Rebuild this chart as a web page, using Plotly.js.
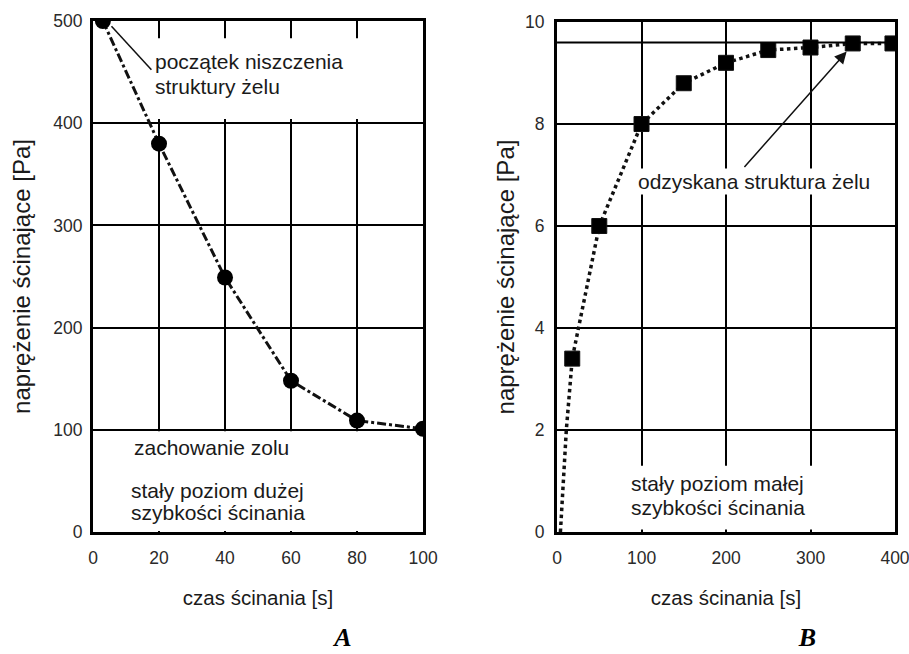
<!DOCTYPE html>
<html>
<head>
<meta charset="utf-8">
<script src="https://cdn.plot.ly/plotly-3.0.1.min.js"></script>
<style>html,body{margin:0;padding:0;background:#fff;}#chart{width:909px;height:654px;}</style>
</head>
<body>
<div id="chart"></div>
<script>
// ---- Data ----
const timeA = [3, 20, 40, 60, 80, 100];
const stressA = [500, 380, 249, 148, 109, 101];

const timeB = [4, 8, 11, 18, 50, 100, 150, 200, 250, 300, 350, 397];
const stressB = [0, 1, 2, 3.4, 6.0, 8.0, 8.8, 9.2, 9.45, 9.5, 9.58, 9.58];
const markedB = [false, false, false, true, true, true, true, true, true, true, true, true];
const recoveredLevelB = 9.6;

const ticksA_x = [0, 20, 40, 60, 80, 100];
const ticksA_y = [0, 100, 200, 300, 400, 500];
const ticksB_x = [0, 100, 200, 300, 400];
const ticksB_y = [0, 2, 4, 6, 8, 10];

const xTitle = 'czas ścinania [s]';
const yTitle = 'naprężenie ścinające [Pa]';

// ---- Styles ----
const FONT = 'Liberation Sans, Arial, Helvetica, sans-serif';
const TXT = '#1a1a1a';
const ANN = 21;

const traceA = {
  x: timeA, y: stressA, xaxis: 'x', yaxis: 'y',
  mode: 'lines+markers', type: 'scatter',
  line: {color: '#111', width: 3, dash: 'dashdot'},
  marker: {symbol: 'circle', size: 16, color: '#000', opacity: 1},
  hoverinfo: 'skip'
};
const traceB = {
  x: timeB, y: stressB, xaxis: 'x2', yaxis: 'y2',
  mode: 'lines+markers', type: 'scatter',
  line: {color: '#111', width: 3.5, dash: 'dot'},
  marker: {symbol: 'square', size: markedB.map(m => m ? 15 : 0), color: '#000', opacity: 1},
  hoverinfo: 'skip'
};

function axisBase(extra) {
  return Object.assign({
    showline: true, mirror: true, linecolor: '#000', linewidth: 3,
    showgrid: true, gridcolor: '#000', gridwidth: 2,
    zeroline: false, ticks: '', fixedrange: true,
    ticklabeloverflow: 'allow',
    tickfont: {family: FONT, size: 17.5, color: '#2a2a2a'}
  }, extra);
}

// white blank panels (grid-free zones of the original figure), drawn above the grid, below the data
const blank = (xr, yr, x0, x1, y0, y1) => ({type: 'rect', layer: 'between', xref: xr, yref: yr,
  x0: x0, x1: x1, y0: y0, y1: y1, fillcolor: '#fff', line: {width: 0}});

const layout = {
  width: 909, height: 654,
  margin: {l: 93, r: 14, t: 21, b: 122},
  paper_bgcolor: '#fff', plot_bgcolor: '#fff',
  showlegend: false,
  xaxis: axisBase({domain: [0, 0.4115], range: [0, 100], tickvals: ticksA_x, anchor: 'y',
    ticklabelstandoff: 8,
    title: {text: xTitle, font: {family: FONT, size: 20.5, color: TXT}, standoff: 24}}),
  yaxis: axisBase({domain: [0, 1], range: [0, 500], tickvals: ticksA_y, anchor: 'x',
    ticklabelstandoff: 4,
    title: {text: yTitle, font: {family: FONT, size: 24, color: TXT}, standoff: 16}}),
  xaxis2: axisBase({domain: [0.5786, 1.0], range: [0, 400], tickvals: ticksB_x, anchor: 'y2',
    ticklabelstandoff: 8,
    title: {text: xTitle, font: {family: FONT, size: 20.5, color: TXT}, standoff: 24}}),
  yaxis2: axisBase({domain: [0, 0.998], range: [0, 10], tickvals: ticksB_y, anchor: 'x2',
    ticklabelstandoff: 6,
    title: {text: yTitle, font: {family: FONT, size: 24, color: TXT}, standoff: 4}}),
  shapes: [
    blank('x', 'y', 1, 99, 1, 98.5),
    blank('x', 'y', 17, 98.5, 404, 483),
    blank('x2', 'y2', 4, 396, 0.05, 1.3),
    {type: 'line', xref: 'x2', yref: 'y2', x0: 0, x1: 400, y0: recoveredLevelB, y1: recoveredLevelB,
     line: {color: '#000', width: 2}},
    {type: 'line', xref: 'x', yref: 'y', x0: 5.6, y0: 494.8, x1: 17.7, y1: 452.4,
     line: {color: '#111', width: 1.5}}
  ],
  annotations: [
    {xref: 'x', yref: 'y', x: 18.2, y: 460, text: 'początek niszczenia', showarrow: false,
     xanchor: 'left', yanchor: 'middle', font: {family: FONT, size: ANN, color: TXT}},
    {xref: 'x', yref: 'y', x: 18.2, y: 436.4, text: 'struktury żelu', showarrow: false,
     xanchor: 'left', yanchor: 'middle', font: {family: FONT, size: ANN, color: TXT}},
    {xref: 'x', yref: 'y', x: 11.8, y: 82.5, text: 'zachowanie zolu', showarrow: false,
     xanchor: 'left', yanchor: 'middle', font: {family: FONT, size: ANN, color: TXT}},
    {xref: 'x', yref: 'y', x: 10.8, y: 41.1, text: 'stały poziom dużej', showarrow: false,
     xanchor: 'left', yanchor: 'middle', font: {family: FONT, size: ANN, color: TXT}},
    {xref: 'x', yref: 'y', x: 10.8, y: 18.9, text: 'szybkości ścinania', showarrow: false,
     xanchor: 'left', yanchor: 'middle', font: {family: FONT, size: ANN, color: TXT}},
    {xref: 'x2', yref: 'y2', x: 93, y: 6.87, text: 'odzyskana struktura żelu', showarrow: false,
     xanchor: 'left', yanchor: 'middle', font: {family: FONT, size: ANN, color: TXT},
     bgcolor: '#fff'},
    {xref: 'x2', yref: 'y2', x: 342.8, y: 9.42, ax: 220.2, ay: 7.13, axref: 'x2', ayref: 'y2',
     text: '', showarrow: true, arrowhead: 2, arrowsize: 1.6, arrowwidth: 1.5, arrowcolor: '#111'},
    {xref: 'x2', yref: 'y2', x: 190.2, y: 0.955, text: 'stały poziom małej', showarrow: false,
     xanchor: 'center', yanchor: 'middle', font: {family: FONT, size: ANN, color: TXT}},
    {xref: 'x2', yref: 'y2', x: 190.2, y: 0.484, text: 'szybkości ścinania', showarrow: false,
     xanchor: 'center', yanchor: 'middle', font: {family: FONT, size: ANN, color: TXT}},
    {xref: 'paper', yref: 'paper', x: 0.310, y: -0.2055, text: '<b><i>A</i></b>', showarrow: false,
     xanchor: 'center', yanchor: 'middle', width: 44, align: 'center', borderpad: 0,
     font: {family: 'Liberation Serif, Times New Roman, serif', size: 26, color: '#000'}},
    {xref: 'paper', yref: 'paper', x: 0.8906, y: -0.2055, text: '<b><i>B</i></b>', showarrow: false,
     xanchor: 'center', yanchor: 'middle', width: 44, align: 'center', borderpad: 0,
     font: {family: 'Liberation Serif, Times New Roman, serif', size: 26, color: '#000'}}
  ]
};

Plotly.newPlot('chart', [traceA, traceB], layout, {displayModeBar: false, staticPlot: true});
</script>
</body>
</html>
